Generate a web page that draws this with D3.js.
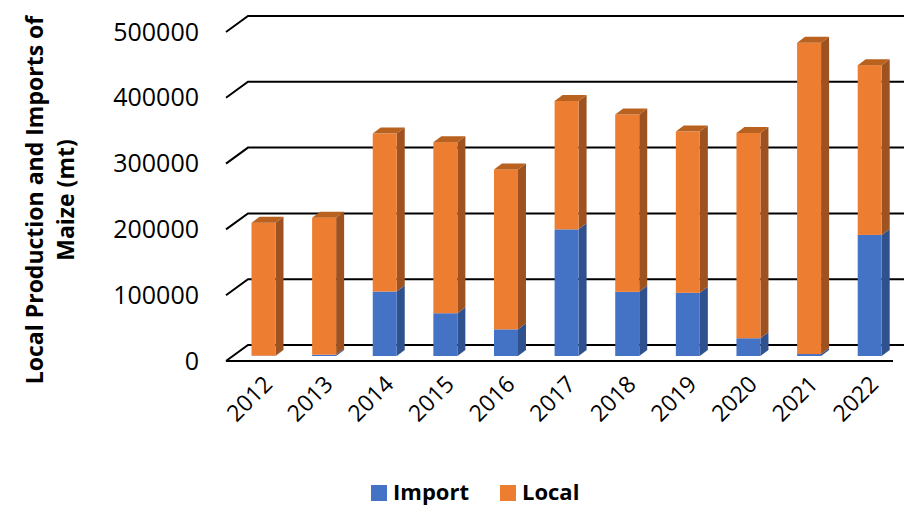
<!DOCTYPE html>
<html>
<head>
<meta charset="utf-8">
<script src="https://cdn.jsdelivr.net/npm/d3@7"></script>
<style>
  body { margin: 0; background: #fff; }
  svg { display: block; font-family: 'Open Sans', sans-serif; }
</style>
</head>
<body>
<svg id="chart" width="904" height="506"></svg>
<script>
const years = ['2012', '2013', '2014', '2015', '2016', '2017', '2018', '2019', '2020', '2021', '2022']
const importVals = [500, 2000, 98000, 65000, 40500, 192500, 97500, 96000, 27000, 3000, 184000]
const localVals = [202000, 208000, 240000, 260000, 243000, 195000, 269500, 245000, 312000, 473000, 258000]
const yTicks = [0, 100000, 200000, 300000, 400000, 500000]
const seriesNames = ['Import', 'Local']

const colors = {
  Import: { front: '#4472C4', side: '#2F528F', top: '#3A63AC' },
  Local: { front: '#ED7D31', side: '#9E5220', top: '#B9611F' }
}

// 3d offsets
const depth = { dx: 8, dy: 6 }
const wall = { x0: 226, x1: 248, front: 5, back: -11, right: 904 }
const barW = 24

const svg = d3.select('#chart')

const xScale = d3.scalePoint()
  .domain(years)
  .range([263.5, 869.7])
const yScale = d3.scaleLinear()
  .domain([0, 500000])
  .range([356, 27])

// gridlines: slanted floor edge + back wall line
const grid = svg.append('g').attr('class', 'grid')
grid.selectAll('path')
  .data(yTicks)
  .join('path')
  .attr('d', d => `M${wall.x0},${yScale(d) + wall.front}L${wall.x1},${yScale(d) + wall.back}H${wall.right}`)
  .attr('fill', 'none')
  .attr('stroke', '#000')
  .attr('stroke-width', 2)
grid.append('line')
  .attr('x1', wall.x0)
  .attr('x2', 893)
  .attr('y1', yScale(0) + wall.front)
  .attr('y2', yScale(0) + wall.front)
  .attr('stroke', '#000')
  .attr('stroke-width', 2)

// stacked segments
const segs = []
years.forEach((yr, i) => {
  segs.push({ year: yr, key: 'Import', y0: 0, y1: importVals[i], top: false })
  segs.push({ year: yr, key: 'Local', y0: importVals[i], y1: importVals[i] + localVals[i], top: true })
})

const bars = svg.append('g').attr('class', 'bars')
  .selectAll('g')
  .data(segs)
  .join('g')

bars.append('path')
  .attr('d', d => {
    const x = xScale(d.year) + barW / 2
    const a = yScale(d.y1)
    const b = yScale(d.y0)
    return `M${x},${a}L${x + depth.dx},${a - depth.dy}L${x + depth.dx},${b - depth.dy}L${x},${b}Z`
  })
  .attr('fill', d => colors[d.key].side)

bars.append('rect')
  .attr('x', d => xScale(d.year) - barW / 2)
  .attr('y', d => yScale(d.y1))
  .attr('width', barW)
  .attr('height', d => yScale(d.y0) - yScale(d.y1))
  .attr('fill', d => colors[d.key].front)

bars.filter(d => d.top)
  .append('path')
  .attr('d', d => {
    const x = xScale(d.year) - barW / 2
    const a = yScale(d.y1)
    return `M${x},${a}L${x + depth.dx},${a - depth.dy}H${x + barW + depth.dx}L${x + barW},${a}Z`
  })
  .attr('fill', d => colors[d.key].top)

// y tick labels
const yAxis = d3.axisLeft(yScale)
  .tickValues(yTicks)
  .tickSize(0)
  .tickPadding(0)
  .tickFormat(d3.format('d'))
svg.append('g')
  .attr('class', 'y axis')
  .attr('transform', `translate(199, ${wall.front})`)
  .call(yAxis)
  .call(g => g.select('.domain').remove())
  .selectAll('text')
  .attr('font-size', 25)
  .attr('font-family', 'Open Sans')
  .attr('fill', '#000')

// x labels, rotated
const xAxis = d3.axisBottom(xScale).tickSize(0).tickPadding(0)
svg.append('g')
  .attr('class', 'x axis')
  .attr('transform', 'translate(4, 380)')
  .call(xAxis)
  .call(g => g.select('.domain').remove())
  .selectAll('text')
  .attr('font-size', 23)
  .attr('font-family', 'Open Sans')
  .attr('fill', '#000')
  .attr('text-anchor', 'end')
  .attr('dy', '0.35em')
  .attr('transform', 'rotate(-45)')

// axis title
const title = svg.append('text')
  .attr('transform', 'translate(0, 200) rotate(-90)')
  .attr('text-anchor', 'middle')
  .attr('font-weight', 'bold')
  .attr('font-size', 23)
title.append('tspan').attr('x', 0).attr('y', 43).text('Local Production and Imports of')
title.append('tspan').attr('x', 0).attr('y', 74).text('Maize (mt)')

// legend
const legend = svg.append('g').attr('class', 'legend')
const legendX = [371, 500]
seriesNames.forEach((name, i) => {
  legend.append('rect')
    .attr('x', legendX[i])
    .attr('y', 485)
    .attr('width', 16)
    .attr('height', 16)
    .attr('fill', colors[name].front)
  legend.append('text')
    .attr('x', legendX[i] + 22)
    .attr('y', 500)
    .attr('font-size', 22)
    .attr('font-weight', 'bold')
    .text(name)
})
</script>
</body>
</html>
